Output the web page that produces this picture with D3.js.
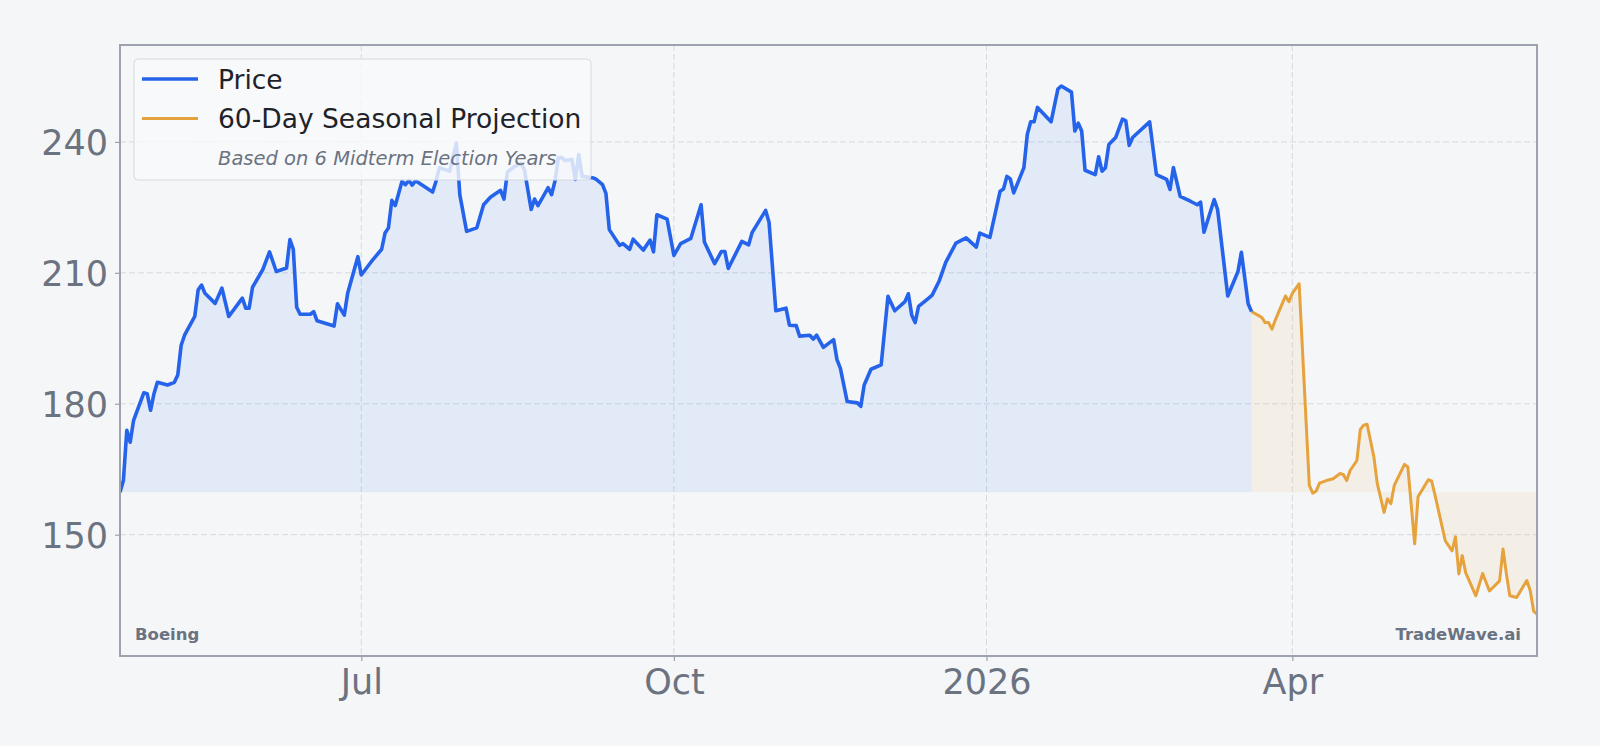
<!DOCTYPE html>
<html>
<head>
<meta charset="utf-8">
<script src="https://cdn.jsdelivr.net/npm/d3@7"></script>
<style>
  html, body { margin: 0; padding: 0; background: #f5f6f8; }
  svg { display: block; font-family: "DejaVu Sans", sans-serif; }
</style>
</head>
<body>
<svg id="chart" width="1600" height="746"></svg>
<script>
// Boeing closing price (visible vertices)
const priceDates = [
  "2025-04-21","2025-04-22","2025-04-23","2025-04-24","2025-04-25","2025-04-28","2025-04-29","2025-04-30",
  "2025-05-01","2025-05-02","2025-05-05","2025-05-07","2025-05-08","2025-05-09","2025-05-10","2025-05-13",
  "2025-05-14","2025-05-15","2025-05-16","2025-05-19","2025-05-21","2025-05-23","2025-05-27","2025-05-28",
  "2025-05-29","2025-05-30","2025-06-02","2025-06-04","2025-06-06","2025-06-09","2025-06-10","2025-06-11",
  "2025-06-12","2025-06-13","2025-06-16","2025-06-17","2025-06-18","2025-06-23","2025-06-24","2025-06-26",
  "2025-06-27","2025-06-30","2025-07-01","2025-07-04","2025-07-07","2025-07-08","2025-07-09","2025-07-10",
  "2025-07-11","2025-07-13","2025-07-14","2025-07-15","2025-07-16","2025-07-17","2025-07-18","2025-07-22",
  "2025-07-23","2025-07-24","2025-07-27","2025-07-29","2025-07-30","2025-08-01","2025-08-04","2025-08-06",
  "2025-08-08","2025-08-11","2025-08-12","2025-08-13","2025-08-15","2025-08-17","2025-08-18","2025-08-20",
  "2025-08-21","2025-08-22","2025-08-25","2025-08-26","2025-08-27","2025-08-28","2025-08-29","2025-08-30",
  "2025-09-01","2025-09-02","2025-09-03","2025-09-04","2025-09-07","2025-09-08","2025-09-10","2025-09-11",
  "2025-09-12","2025-09-15","2025-09-16","2025-09-18","2025-09-19","2025-09-22","2025-09-24","2025-09-25",
  "2025-09-26","2025-09-29","2025-10-01","2025-10-03","2025-10-06","2025-10-09","2025-10-10","2025-10-13",
  "2025-10-15","2025-10-16","2025-10-17","2025-10-21","2025-10-23","2025-10-24","2025-10-28","2025-10-29",
  "2025-10-31","2025-11-03","2025-11-04","2025-11-06","2025-11-07","2025-11-10","2025-11-11","2025-11-12",
  "2025-11-14","2025-11-17","2025-11-18","2025-11-19","2025-11-21","2025-11-24","2025-11-25","2025-11-26",
  "2025-11-28","2025-12-01","2025-12-03","2025-12-05","2025-12-08","2025-12-09","2025-12-10","2025-12-11",
  "2025-12-12","2025-12-15","2025-12-16","2025-12-18","2025-12-20","2025-12-23","2025-12-26","2025-12-29",
  "2025-12-30","2026-01-02","2026-01-05","2026-01-06","2026-01-07","2026-01-08","2026-01-09","2026-01-12",
  "2026-01-13","2026-01-14","2026-01-15","2026-01-16","2026-01-20","2026-01-22","2026-01-23","2026-01-26",
  "2026-01-27","2026-01-28","2026-01-29","2026-01-30","2026-02-02","2026-02-03","2026-02-04","2026-02-05",
  "2026-02-06","2026-02-08","2026-02-10","2026-02-11","2026-02-12","2026-02-13","2026-02-18","2026-02-20",
  "2026-02-23","2026-02-24","2026-02-25","2026-02-27","2026-03-02","2026-03-04","2026-03-05","2026-03-06",
  "2026-03-09","2026-03-10","2026-03-13","2026-03-16","2026-03-17","2026-03-19","2026-03-20"
];
const priceValues = [
  159.7,162.4,173.9,171.2,176.2,182.5,182.3,178.5,
  182.3,184.9,184.3,184.9,186.6,193.4,195.7,200.0,
  206.1,207.2,205.3,203.0,206.5,200.0,204.2,201.9,
  201.9,206.7,210.7,214.8,210.3,211.1,217.6,215.4,
  202.1,200.5,200.5,201.1,199.0,197.8,202.9,200.3,
  205.3,213.7,209.5,212.6,215.4,219.1,220.3,226.6,
  225.4,231.0,230.2,231.2,230.1,231.1,230.6,228.5,
  231.0,234.1,233.3,239.7,227.9,219.5,220.3,225.6,
  227.3,228.9,226.9,233.1,234.3,235.1,233.7,224.5,
  226.9,225.4,229.5,227.9,231.0,236.4,236.4,235.7,
  236.0,231.4,237.1,232.1,231.8,231.5,230.2,228.2,
  219.9,216.3,216.7,215.4,217.7,215.2,217.5,214.8,
  223.3,222.3,214.0,216.7,217.9,225.6,217.0,212.1,
  214.9,214.9,211.0,217.2,216.4,219.2,224.3,221.6,
  201.3,201.9,198.0,197.9,195.5,195.7,194.8,195.7,
  192.9,194.7,190.1,188.1,180.5,180.2,179.4,184.3,
  187.9,188.9,204.6,201.3,203.4,205.2,200.3,198.6,
  202.3,204.2,204.9,208.0,212.4,216.8,218.0,215.9,
  219.1,218.1,228.7,229.2,232.1,231.5,228.3,234.1,
  241.7,244.6,244.6,247.9,244.6,252.1,252.8,251.4,
  242.5,244.3,242.5,233.5,232.5,236.6,233.3,234.1,
  239.4,241.0,245.2,244.8,239.2,241.0,244.6,232.5,
  231.4,229.1,234.1,227.5,226.4,225.6,226.2,219.3,
  226.8,224.5,204.7,210.3,214.7,202.9,201.1
];

// 60-day seasonal projection (midterm election years)
const projDates = [
  "2026-03-20","2026-03-23","2026-03-24","2026-03-25","2026-03-26","2026-03-27","2026-03-30","2026-03-31",
  "2026-04-01","2026-04-03","2026-04-06","2026-04-07","2026-04-08","2026-04-09","2026-04-11","2026-04-13",
  "2026-04-15","2026-04-16","2026-04-17","2026-04-18","2026-04-20","2026-04-21","2026-04-22","2026-04-23",
  "2026-04-25","2026-04-26","2026-04-28","2026-04-29","2026-04-30","2026-05-01","2026-05-04","2026-05-05",
  "2026-05-07","2026-05-08","2026-05-11","2026-05-12","2026-05-13","2026-05-15","2026-05-16","2026-05-18",
  "2026-05-19","2026-05-20","2026-05-21","2026-05-22","2026-05-25","2026-05-27","2026-05-29","2026-06-01",
  "2026-06-02","2026-06-03","2026-06-04","2026-06-06","2026-06-09","2026-06-10","2026-06-11","2026-06-12"
];
const projValues = [
  201.1,199.8,198.6,198.6,197.1,199.2,204.7,203.4,
  205.3,207.5,161.3,159.5,160.0,161.8,162.4,162.8,
  164.0,163.8,162.4,164.7,167.0,174.1,175.1,175.3,
  167.8,161.7,155.1,158.2,157.1,161.3,166.1,165.5,
  147.9,158.7,162.6,162.3,159.0,152.1,148.6,146.3,
  149.5,141.0,145.2,141.3,136.0,141.1,137.1,139.4,
  146.7,141.0,136.0,135.6,139.5,137.2,132.5,131.8
];

const yTicks = [150, 180, 210, 240];
const xTickDates = ["2025-07-01", "2025-10-01", "2026-01-01", "2026-04-01"];
const xTickLabels = ["Jul", "Oct", "2026", "Apr"];

const legendLabels = ["Price", "60-Day Seasonal Projection"];
const legendNote = "Based on 6 Midterm Election Years";
const tickerName = "Boeing";
const brandName = "TradeWave.ai";

document.addEventListener('DOMContentLoaded', function(){

    const width = 1600;
    const height = 746;
    const margin = {top: 45, right: 63, bottom: 90, left: 120};

    const blue = "#2563eb";
    const orange = "#e6a23c";
    const grey = "#6b7280";

    const parse = d3.utcParse("%Y-%m-%d");
    const price = priceDates.map((d, i) => ({date: parse(d), value: priceValues[i]}));
    const proj = projDates.map((d, i) => ({date: parse(d), value: projValues[i]}));
    const baseline = d3.min(priceValues);

    const svg = d3.select("#chart")
                  .attr("viewBox", [0, 0, width, height]);

    svg.append("rect")
       .attr("width", width)
       .attr("height", height)
       .attr("fill", "#f5f6f8");

    // SCALES
    const x = d3.scaleUtc()
                .domain([price[0].date, proj[proj.length - 1].date])
                .range([margin.left, width - margin.right]);

    const y = d3.scaleLinear()
                .domain([122.2, 262.2])
                .range([height - margin.bottom, margin.top]);

    svg.append("clipPath")
       .attr("id", "plot-clip")
       .append("rect")
       .attr("x", margin.left)
       .attr("y", margin.top)
       .attr("width", width - margin.left - margin.right)
       .attr("height", height - margin.top - margin.bottom);

    //GRID
    const grid = svg.append("g")
                    .attr("stroke", "#d5d9df")
                    .attr("stroke-width", 1)
                    .attr("stroke-dasharray", "6,3");

    grid.selectAll("line.h")
        .data(yTicks)
        .join("line")
        .attr("class", "h")
        .attr("x1", margin.left)
        .attr("x2", width - margin.right)
        .attr("y1", d => y(d))
        .attr("y2", d => y(d));

    grid.selectAll("line.v")
        .data(xTickDates.map(parse))
        .join("line")
        .attr("class", "v")
        .attr("x1", d => x(d))
        .attr("x2", d => x(d))
        .attr("y1", margin.top)
        .attr("y2", height - margin.bottom);

    // AREAS
    const area = d3.area()
                   .x(d => x(d.date))
                   .y0(y(baseline))
                   .y1(d => y(d.value));

    const plot = svg.append("g").attr("clip-path", "url(#plot-clip)");

    plot.append("path")
        .datum(price)
        .attr("d", area)
        .attr("fill", "#3b82f6")
        .attr("fill-opacity", 0.1);

    plot.append("path")
        .datum(proj)
        .attr("d", area)
        .attr("fill", orange)
        .attr("fill-opacity", 0.09);

    // LINES
    const line = d3.line()
                   .x(d => x(d.date))
                   .y(d => y(d.value));

    plot.append("path")
        .datum(proj)
        .attr("d", line)
        .attr("fill", "none")
        .attr("stroke", orange)
        .attr("stroke-width", 3)
        .attr("stroke-linejoin", "round");

    plot.append("path")
        .datum(price)
        .attr("d", line)
        .attr("fill", "none")
        .attr("stroke", blue)
        .attr("stroke-width", 3.6)
        .attr("stroke-linejoin", "round");

    // FRAME
    svg.append("rect")
       .attr("x", margin.left)
       .attr("y", margin.top)
       .attr("width", width - margin.left - margin.right)
       .attr("height", height - margin.top - margin.bottom)
       .attr("fill", "none")
       .attr("stroke", "#9ca3af")
       .attr("stroke-width", 2);

    // AXES
    const yAxis = svg.append("g")
                     .attr("transform", `translate(${margin.left},0)`)
                     .call(d3.axisLeft(y).tickValues(yTicks).tickSize(5).tickPadding(7));

    const xAxis = svg.append("g")
                     .attr("transform", `translate(0,${height - margin.bottom})`)
                     .call(d3.axisBottom(x)
                             .tickValues(xTickDates.map(parse))
                             .tickFormat((d, i) => xTickLabels[i])
                             .tickSize(5)
                             .tickPadding(6));

    [yAxis, xAxis].forEach(ax => {
        ax.select(".domain").remove();
        ax.selectAll(".tick line").attr("stroke", "#9ca3af").attr("stroke-width", 1.2);
        ax.selectAll(".tick text")
          .attr("fill", grey)
          .attr("font-size", 35)
          .attr("font-family", "DejaVu Sans");
    });
    yAxis.selectAll(".tick text").attr("dy", "0.36em");
    xAxis.selectAll(".tick text").attr("dy", "0.76em");

    // LEGEND
    const legend = svg.append("g");

    legend.append("rect")
          .attr("x", 134)
          .attr("y", 59)
          .attr("width", 457)
          .attr("height", 121)
          .attr("rx", 4)
          .attr("fill", "#f8f9fb")
          .attr("fill-opacity", 0.82)
          .attr("stroke", "#d5d9df")
          .attr("stroke-width", 1);

    const rows = [
        {label: legendLabels[0], color: blue, w: 3.4, cy: 79},
        {label: legendLabels[1], color: orange, w: 2.8, cy: 118.5}
    ];

    legend.selectAll("line")
          .data(rows)
          .join("line")
          .attr("x1", 142)
          .attr("x2", 198)
          .attr("y1", d => d.cy)
          .attr("y2", d => d.cy)
          .attr("stroke", d => d.color)
          .attr("stroke-width", d => d.w);

    legend.selectAll("text.item")
          .data(rows)
          .join("text")
          .attr("class", "item")
          .attr("x", 218)
          .attr("y", d => d.cy)
          .attr("dy", "0.36em")
          .attr("font-size", 26.5)
          .attr("fill", "#1f2329")
          .text(d => d.label);

    legend.append("text")
          .attr("x", 218)
          .attr("y", 165)
          .attr("font-size", 19.5)
          .attr("font-style", "italic")
          .attr("fill", grey)
          .text(legendNote);

    // LABELS
    svg.append("text")
       .attr("x", margin.left + 15)
       .attr("y", height - margin.bottom - 16)
       .attr("font-size", 16.5)
       .attr("font-weight", "bold")
       .attr("fill", grey)
       .text(tickerName);

    svg.append("text")
       .attr("x", width - margin.right - 16)
       .attr("y", height - margin.bottom - 16)
       .attr("text-anchor", "end")
       .attr("font-size", 16.5)
       .attr("font-weight", "bold")
       .attr("fill", grey)
       .text(brandName);

});
</script>
</body>
</html>
